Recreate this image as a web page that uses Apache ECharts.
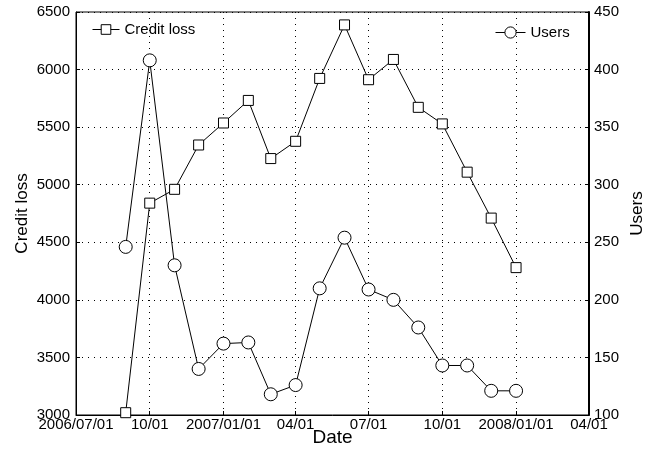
<!DOCTYPE html>
<html>
<head>
<meta charset="utf-8">
<script src="https://cdn.jsdelivr.net/npm/echarts@6/dist/echarts.min.js"></script>
<style>html,body{margin:0;padding:0;background:#fff}#c{width:660px;height:449px}</style>
</head>
<body>
<div id="c"></div>
<script>
const dates = ['2006-09-01','2006-10-01','2006-11-01','2006-12-01','2007-01-01','2007-02-01','2007-03-01','2007-04-01','2007-05-01','2007-06-01','2007-07-01','2007-08-01','2007-09-01','2007-10-01','2007-11-01','2007-12-01','2008-01-01'];
const creditLoss = [3020,4840,4960,5345,5536,5732,5227,5377,5923,6388,5912,6088,5672,5528,5109,4710,4280];
const users = [246,408,230,140,162,163,118,126,210,254,209,200,176,143,143,121,121];
const xMin = '2006-07-01', xMax = '2008-04-01';

const font = 'Liberation Sans, Arial, sans-serif';
const chart = echarts.init(document.getElementById('c'));
const xMinTs = new Date(2006,6,1).getTime();
function pad(n){return (n<10?'0':'')+n;}
const legendItem = {color:'#fff',borderColor:'#000',borderWidth:1};
chart.setOption({
  animation:false,
  textStyle:{fontFamily:font,color:'#000'},
  grid:{left:76,right:71,top:12,bottom:34,show:true,borderColor:'#000',borderWidth:1,backgroundColor:'transparent',
    outerBoundsMode:'none',containLabel:false},
  legend:[
    {data:['Credit loss'],left:87,top:17,itemWidth:27,itemHeight:12,
      itemStyle:legendItem,lineStyle:{width:1,color:'#000'},
      textStyle:{fontFamily:font,fontSize:15,color:'#000'}},
    {data:['Users'],left:490,top:20,itemWidth:30,itemHeight:14,
      itemStyle:legendItem,lineStyle:{width:1,color:'#000'},
      textStyle:{fontFamily:font,fontSize:15,color:'#000'}}
  ],
  xAxis:{
    type:'time',min:xMin,max:xMax,
    minInterval:80*86400000,maxInterval:100*86400000,
    name:'Date',nameLocation:'middle',nameGap:13,nameMoveOverlap:false,
    nameTextStyle:{fontFamily:font,fontSize:19,color:'#000'},
    axisLine:{lineStyle:{color:'#000',width:1}},
    axisTick:{inside:true,length:4,lineStyle:{color:'#000'}},
    axisLabel:{fontFamily:font,fontSize:15,color:'#000',margin:2,hideOverlap:false,showMinLabel:true,showMaxLabel:true,
      formatter:function(v){const d=new Date(v);const m=d.getMonth()+1;
        if(m===1||Math.abs(v-xMinTs)<86400000)return d.getFullYear()+'/'+pad(m)+'/'+pad(d.getDate());
        return pad(m)+'/'+pad(d.getDate());}},
    splitLine:{show:true,lineStyle:{color:'#000',type:[1,5],width:1}}
  },
  yAxis:[
    {type:'value',min:3000,max:6500,interval:500,position:'left',
      name:'Credit loss',nameLocation:'middle',nameGap:45,nameMoveOverlap:false,
      nameTextStyle:{fontFamily:font,fontSize:17,color:'#000'},
      axisLine:{show:true,lineStyle:{color:'#000',width:1}},
      axisTick:{show:true,inside:true,length:4,lineStyle:{color:'#000'}},
      axisLabel:{fontFamily:font,fontSize:15,color:'#000',margin:6,formatter:function(v){return String(v);}},
      splitLine:{show:true,lineStyle:{color:'#000',type:[1,5],width:1}}},
    {type:'value',min:100,max:450,interval:50,position:'right',
      name:'Users',nameLocation:'middle',nameGap:40,nameMoveOverlap:false,
      nameTextStyle:{fontFamily:font,fontSize:17,color:'#000'},
      axisLine:{show:true,lineStyle:{color:'#000',width:2}},
      axisTick:{show:true,inside:true,length:4,lineStyle:{color:'#000'}},
      axisLabel:{fontFamily:font,fontSize:15,color:'#000',margin:5,formatter:function(v){return String(v);}},
      splitLine:{show:false}}
  ],
  series:[
    {name:'Credit loss',type:'line',yAxisIndex:0,data:dates.map((d,i)=>[d,creditLoss[i]]),
      symbol:'rect',symbolSize:10,showAllSymbol:true,
      lineStyle:{color:'#000',width:1},itemStyle:{color:'#fff',borderColor:'#000',borderWidth:1}},
    {name:'Users',type:'line',yAxisIndex:1,data:dates.map((d,i)=>[d,users[i]]),
      symbol:'circle',symbolSize:13,showAllSymbol:true,
      lineStyle:{color:'#000',width:1},itemStyle:{color:'#fff',borderColor:'#000',borderWidth:1}}
  ]
});
</script>
</body>
</html>
